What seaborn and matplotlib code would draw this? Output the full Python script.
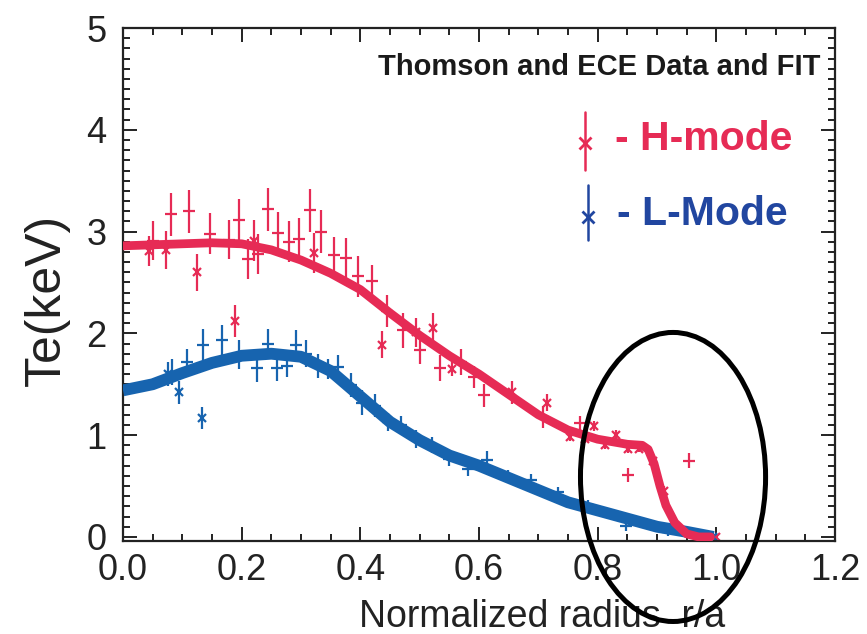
import matplotlib
matplotlib.use("Agg")
import matplotlib.pyplot as plt
from matplotlib import font_manager
from matplotlib.patches import Ellipse
from matplotlib.ticker import MultipleLocator
import seaborn as sns
import pandas as pd

# fitted profiles
fit_r = [0.0, 0.05, 0.10, 0.15, 0.20, 0.25, 0.30, 0.35, 0.40, 0.45, 0.50, 0.55, 0.60,
         0.65, 0.70, 0.75, 0.80, 0.85, 0.875, 0.885, 0.895, 0.905, 0.915, 0.93, 0.95, 0.97, 0.99]
fit_h = [2.86, 2.87, 2.88, 2.89, 2.88, 2.82, 2.72, 2.59, 2.43, 2.20, 1.98, 1.78, 1.60,
         1.40, 1.20, 1.05, 0.96, 0.91, 0.90, 0.86, 0.72, 0.50, 0.31, 0.14, 0.03, 0.0, 0.0]
fit_r_l = [0.0, 0.05, 0.10, 0.15, 0.20, 0.25, 0.30, 0.35, 0.40, 0.45, 0.50, 0.55, 0.60,
           0.65, 0.70, 0.75, 0.80, 0.85, 0.90, 0.95, 0.995]
fit_l = [1.44, 1.50, 1.61, 1.71, 1.78, 1.80, 1.77, 1.63, 1.38, 1.13, 0.95, 0.80, 0.70,
         0.58, 0.46, 0.34, 0.26, 0.18, 0.10, 0.05, 0.0]

# H-mode Thomson points
h_r = [0.051, 0.081, 0.112, 0.146, 0.178, 0.195, 0.210, 0.227, 0.244, 0.261, 0.279, 0.296,
       0.315, 0.334, 0.355, 0.375, 0.396, 0.420, 0.445, 0.472, 0.501, 0.534, 0.569, 0.592,
       0.609, 0.707, 0.770, 0.851, 0.954]
h_te = [2.91, 3.17, 3.20, 2.98, 2.92, 3.11, 2.73, 2.78, 3.22, 2.99, 2.90, 2.93,
        3.21, 3.00, 2.77, 2.74, 2.56, 2.51, 2.22, 2.03, 1.84, 1.66, 1.72, 1.57,
        1.39, 1.18, 1.12, 0.61, 0.75]
h_err = [0.19, 0.21, 0.21, 0.20, 0.19, 0.21, 0.20, 0.20, 0.21, 0.20, 0.20, 0.20,
         0.21, 0.21, 0.18, 0.20, 0.20, 0.16, 0.16, 0.17, 0.14, 0.13, 0.13, 0.11,
         0.11, 0.11, 0.07, 0.07, 0.07]
# H-mode ECE points
h_ece_r = [0.044, 0.073, 0.125, 0.189, 0.220, 0.322, 0.436, 0.493, 0.523, 0.555, 0.655,
           0.715, 0.754, 0.778, 0.793, 0.812, 0.831, 0.851, 0.869, 0.894, 0.912, 1.0]
h_ece_te = [2.81, 2.82, 2.60, 2.12, 2.91, 2.79, 1.89, 2.01, 2.05, 1.65, 1.42,
            1.32, 0.98, 0.96, 1.09, 0.90, 1.00, 0.86, 0.86, 0.75, 0.45, 0.0]
h_ece_err = [0.15, 0.19, 0.18, 0.16, 0.20, 0.20, 0.13, 0.14, 0.15, 0.07, 0.11,
             0.08, 0.04, 0.04, 0.05, 0.04, 0.05, 0.04, 0.03, 0.04, 0.05, 0.02]

# L-mode Thomson points
l_r = [0.083, 0.108, 0.135, 0.166, 0.195, 0.226, 0.244, 0.259, 0.276, 0.292, 0.309, 0.328,
       0.346, 0.363, 0.384, 0.402, 0.424, 0.447, 0.469, 0.494, 0.521, 0.550, 0.581, 0.614,
       0.649, 0.688, 0.733, 0.784, 0.848, 0.918]
l_te = [1.62, 1.72, 1.89, 1.93, 1.79, 1.66, 1.90, 1.66, 1.68, 1.89, 1.80, 1.68,
        1.65, 1.67, 1.49, 1.32, 1.29, 1.13, 1.10, 0.96, 0.90, 0.77, 0.67, 0.76,
        0.60, 0.56, 0.44, 0.31, 0.11, 0.05]
l_err = [0.13, 0.13, 0.15, 0.15, 0.14, 0.14, 0.14, 0.13, 0.11, 0.14, 0.13, 0.12,
         0.10, 0.12, 0.12, 0.12, 0.11, 0.09, 0.09, 0.09, 0.08, 0.07, 0.07, 0.08,
         0.06, 0.06, 0.05, 0.05, 0.05, 0.04]
# L-mode ECE points
l_ece_r = [0.076, 0.094, 0.133, 0.995]
l_ece_te = [1.60, 1.42, 1.17, 0.0]
l_ece_err = [0.12, 0.11, 0.11, 0.03]

RED = "#e62b55"
BLUE = "#1764af"
BLUE_TXT = "#2146a0"

sns.set_style("ticks")
plt.rcParams["font.family"] = ["Liberation Sans", "DejaVu Sans"]
names = {f.name for f in font_manager.fontManager.ttflist}
narrow = "Liberation Sans Narrow" in names

fig = plt.figure(figsize=(8.67, 6.34), dpi=100)
ax = fig.add_axes([0.1419, 0.1467, 0.9631 - 0.1419, 0.9558 - 0.1467])

pt_kw = dict(linestyle="none", elinewidth=1.6, capsize=0, markersize=8,
             markeredgewidth=1.6, zorder=2)
ax.errorbar(h_r, h_te, yerr=h_err, marker="_", color=RED, **pt_kw)
ax.errorbar(h_ece_r, h_ece_te, yerr=h_ece_err, marker="x", color=RED,
            **{**pt_kw, "markersize": 6})
ax.errorbar(l_r, l_te, yerr=l_err, marker="_", color=BLUE, **pt_kw)
ax.errorbar(l_ece_r, l_ece_te, yerr=l_ece_err, marker="x", color=BLUE,
            **{**pt_kw, "markersize": 6})

df_h = pd.DataFrame({"r": fit_r, "te": fit_h})
df_l = pd.DataFrame({"r": fit_r_l, "te": fit_l})
sns.lineplot(data=df_l, x="r", y="te", color=BLUE, linewidth=8.5, ax=ax, zorder=3,
             solid_joinstyle="round", solid_capstyle="butt")
sns.lineplot(data=df_h, x="r", y="te", color=RED, linewidth=6.3, ax=ax, zorder=4,
             solid_joinstyle="round", solid_capstyle="round")

ax.set_xlim(0, 1.2)
ax.set_ylim(-0.04, 5)
ax.xaxis.set_major_locator(MultipleLocator(0.2))
ax.xaxis.set_minor_locator(MultipleLocator(0.05))
ax.yaxis.set_major_locator(MultipleLocator(1))
ax.yaxis.set_minor_locator(MultipleLocator(0.1))
ax.xaxis.set_major_formatter(matplotlib.ticker.FormatStrFormatter("%.1f"))
ax.tick_params(which="both", direction="in", top=True, right=True, width=1.4,
               color="#222222")
ax.tick_params(which="major", length=10, labelsize=26, labelcolor="#222222")
ax.tick_params(which="minor", length=5)
ax.tick_params(axis="x", which="major", pad=9)
ax.tick_params(axis="y", which="major", pad=12)
for s in ax.spines.values():
    s.set_linewidth(1.6)
    s.set_color("#222222")

ax.set_xlabel("Normalized radius  r/a", fontsize=27, color="#222222", va="baseline")
ax.xaxis.set_label_coords(0.589, -0.168)
ax.set_ylabel("Te(keV)", fontsize=36, color="#222222", va="baseline")
ax.yaxis.set_label_coords(-0.0885, 0.47)

if narrow:
    ax.text(0.979, 0.908, "Thomson and ECE Data and FIT", transform=ax.transAxes,
            ha="right", va="baseline", fontsize=25, fontweight="bold",
            family="Liberation Sans Narrow", color="#1a1a1a")
else:
    ax.text(0.979, 0.908, "Thomson and ECE Data and FIT", transform=ax.transAxes,
            ha="right", va="baseline", fontsize=21, fontweight="bold",
            color="#1a1a1a")

# hand-made legend
ax.plot([0.649, 0.649], [0.723, 0.836], color=RED, lw=1.8, transform=ax.transAxes)
ax.plot([0.649], [0.776], marker="x", ms=9, mew=2, color=RED, transform=ax.transAxes)
ax.text(0.691, 0.762, "- H-mode", transform=ax.transAxes, ha="left", va="baseline",
        fontsize=29.5, fontweight="bold", color=RED)
ax.plot([0.653, 0.653], [0.587, 0.694], color=BLUE_TXT, lw=1.8, transform=ax.transAxes)
ax.plot([0.653], [0.632], marker="x", ms=9, mew=2, color=BLUE_TXT, transform=ax.transAxes)
ax.text(0.694, 0.616, "- L-Mode", transform=ax.transAxes, ha="left", va="baseline",
        fontsize=29.5, fontweight="bold", color=BLUE_TXT)

ax.add_patch(Ellipse((0.927, 0.589), 0.312, 2.84, fill=False, lw=3.6,
                     edgecolor="black", clip_on=False, zorder=6))

fig.savefig("out.png", dpi=100)
